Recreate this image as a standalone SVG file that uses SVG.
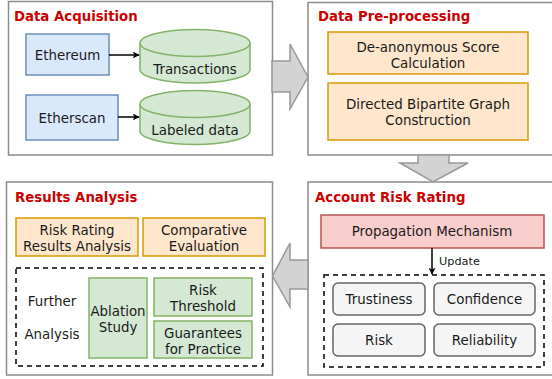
<svg xmlns="http://www.w3.org/2000/svg" width="552" height="379" viewBox="0 0 552 379">
<defs>
<style>
text{font-family:"DejaVu Sans","Verdana",sans-serif;fill:#1a1a1a;}
.t{font-size:13.4px;text-anchor:middle;dominant-baseline:central;}
.title{font-size:13.3px;font-weight:bold;fill:#cc0000;}
.outer{fill:#ffffff;stroke:#8c8c8c;stroke-width:1.5;}
.blue{fill:#dae8fc;stroke:#6c8ebf;stroke-width:1.5;}
.green{fill:#d5e8d4;stroke:#82b366;stroke-width:1.5;}
.orange{fill:#ffe6cc;stroke:#d79b00;stroke-width:1.5;}
.pink{fill:#f8cecc;stroke:#b85450;stroke-width:1.5;}
.gray{fill:#f5f5f5;stroke:#666666;stroke-width:1.5;}
.dash{fill:none;stroke:#000;stroke-width:1.5;stroke-dasharray:5 4;}
.big{fill:#d3d3d3;stroke:#999999;stroke-width:1.5;stroke-linejoin:miter;}
.line{stroke:#000;stroke-width:1.5;fill:none;}
</style>
<marker id="ah" viewBox="0 0 10 10" refX="9" refY="5" markerWidth="7" markerHeight="7" orient="auto" markerUnits="userSpaceOnUse">
<path d="M0,0 L10,5 L0,10 L2.5,5 z" fill="#000"/>
</marker>
</defs>

<g id="data-acquisition">
<rect class="outer" x="8.5" y="1.5" width="264" height="153.5"/>
<text class="title" x="14" y="21">Data Acquisition</text>
</g>
<g id="ethereum">
<rect class="blue" x="26" y="34" width="83" height="41"/>
<text class="t" x="67.5" y="55">Ethereum</text>
</g>
<g id="etherscan">
<rect class="blue" x="26" y="95" width="92" height="45"/>
<text class="t" x="72" y="118">Etherscan</text>
</g>
<g id="transactions">
<path class="green" d="M140,43 A55,13.5 0 0 1 250,43 L250,69.5 A55,13.5 0 0 1 140,69.5 Z"/>
<path class="green" d="M140,43 A55,13.5 0 0 0 250,43" fill="none"/>
<text class="t" x="195" y="69.5">Transactions</text>
</g>
<g id="labeled-data">
<path class="green" d="M140,104 A55,13.5 0 0 1 250,104 L250,131 A55,13.5 0 0 1 140,131 Z"/>
<path class="green" d="M140,104 A55,13.5 0 0 0 250,104" fill="none"/>
<text class="t" x="195" y="130.5">Labeled data</text>
</g>

<g id="data-preprocessing">
<rect class="outer" x="308" y="2.5" width="260" height="152.5"/>
<text class="title" x="318" y="21">Data Pre-processing</text>
</g>
<g id="de-anonymous">
<rect class="orange" x="328" y="32" width="200" height="42"/>
<text class="t" x="428" y="47">De-anonymous Score</text>
<text class="t" x="428" y="63">Calculation</text>
</g>
<g id="bipartite">
<rect class="orange" x="328" y="83" width="200" height="57"/>
<text class="t" x="428" y="104.5">Directed Bipartite Graph</text>
<text class="t" x="428" y="120.5">Construction</text>
</g>

<g id="results-analysis">
<rect class="outer" x="6.5" y="182" width="266" height="193"/>
<text class="title" x="15" y="202">Results Analysis</text>
</g>
<g id="risk-rating-results">
<rect class="orange" x="16" y="218" width="122" height="38"/>
<text class="t" x="77" y="230.5">Risk Rating</text>
<text class="t" x="77" y="246.5">Results Analysis</text>
</g>
<g id="comparative">
<rect class="orange" x="143" y="218" width="122" height="38"/>
<text class="t" x="204" y="230.5">Comparative</text>
<text class="t" x="204" y="246.5">Evaluation</text>
</g>
<g id="further-analysis">
<rect class="dash" x="16" y="268" width="247" height="98"/>
<text class="t" x="52" y="301">Further</text>
<text class="t" x="52" y="334">Analysis</text>
</g>
<g id="ablation">
<rect class="green" x="89" y="278" width="58" height="80"/>
<text class="t" x="118" y="311.5">Ablation</text>
<text class="t" x="118" y="327.5">Study</text>
</g>
<g id="risk-threshold">
<rect class="green" x="154" y="278" width="98" height="38"/>
<text class="t" x="203" y="290">Risk</text>
<text class="t" x="203" y="306">Threshold</text>
</g>
<g id="guarantees">
<rect class="green" x="154" y="321" width="98" height="37"/>
<text class="t" x="203" y="333">Guarantees</text>
<text class="t" x="203" y="349">for Practice</text>
</g>

<g id="account-risk-rating">
<rect class="outer" x="308" y="182" width="260" height="193"/>
<text class="title" x="315" y="202">Account Risk Rating</text>
</g>
<g id="propagation">
<rect class="pink" x="321" y="215" width="223" height="33"/>
<text class="t" x="432" y="231.5">Propagation Mechanism</text>
</g>
<g id="metrics">
<rect class="dash" x="324" y="275" width="220" height="92"/>
</g>
<g id="trustiness">
<rect class="gray" x="333" y="283" width="92" height="32" rx="5"/>
<text class="t" x="379" y="299.5">Trustiness</text>
</g>
<g id="confidence">
<rect class="gray" x="434" y="283" width="101" height="32" rx="5"/>
<text class="t" x="484.5" y="299.5">Confidence</text>
</g>
<g id="risk">
<rect class="gray" x="333" y="324" width="92" height="32" rx="5"/>
<text class="t" x="379" y="340.5">Risk</text>
</g>
<g id="reliability">
<rect class="gray" x="434" y="324" width="101" height="32" rx="5"/>
<text class="t" x="484.5" y="340.5">Reliability</text>
</g>

<g id="connectors">
<line class="line" x1="109" y1="55" x2="139" y2="55" marker-end="url(#ah)"/>
<line class="line" x1="118" y1="117" x2="139" y2="117" marker-end="url(#ah)"/>
<line class="line" x1="432" y1="248" x2="432" y2="274" marker-end="url(#ah)"/>
<text x="439" y="261" style="font-size:11.3px;dominant-baseline:central;">Update</text>
<polygon class="big" points="272,61 290,61 290,44 308,77 290,109 290,92 272,92"/>
<polygon class="big" points="418,155 449,155 449,163 468,163 433,182 400,163 418,163"/>
<polygon class="big" points="308,260 290,260 290,243 272.5,276 290,307 290,289 308,289"/>
</g>
</svg>
